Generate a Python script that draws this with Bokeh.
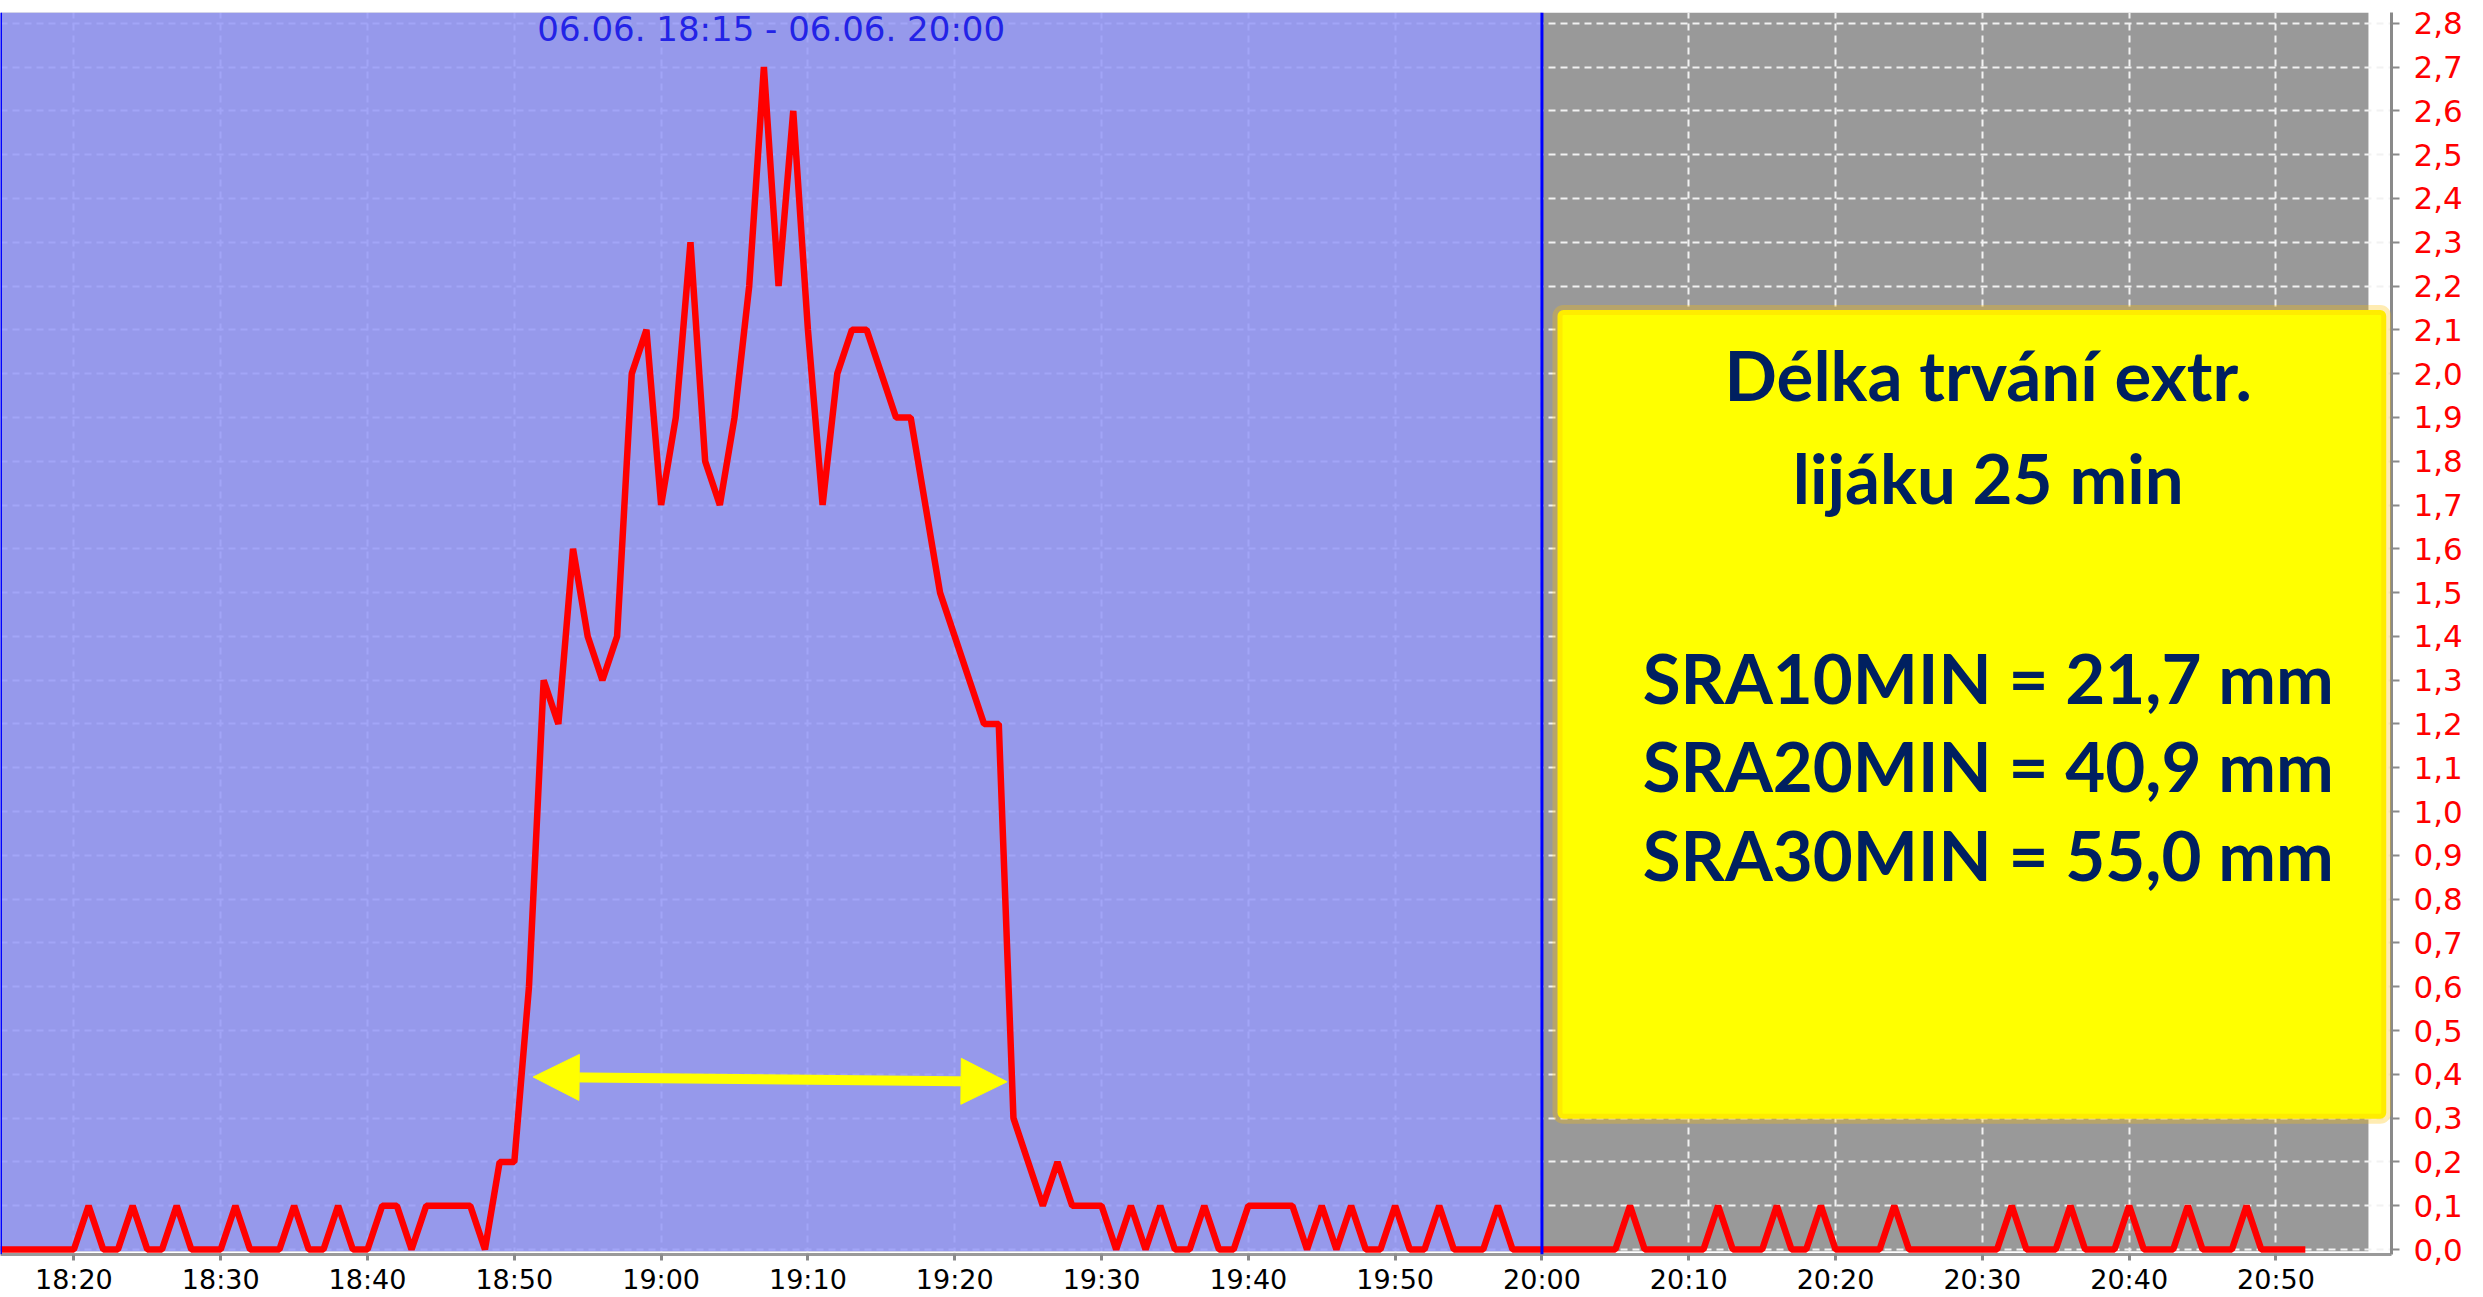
from bokeh.plotting import figure
from bokeh.models import (BoxAnnotation, Span, Label, Arrow, NormalHead,
                          FixedTicker, Range1d, CustomJSTickFormatter)
from bokeh.embed import file_html
from bokeh.resources import INLINE

# ---------------- data ----------------
start_time = "18:15"          # first sample, 1-minute sampling
values = [
    0, 0, 0, 0, 0,                                  # 18:15-18:19
    0, 0.1, 0, 0, 0.1, 0, 0, 0.1, 0, 0,             # 18:20-18:29
    0, 0.1, 0, 0, 0, 0.1, 0, 0, 0.1, 0,             # 18:30-18:39
    0, 0.1, 0.1, 0, 0.1, 0.1, 0.1, 0.1, 0, 0.2,     # 18:40-18:49
    0.2, 0.6, 1.3, 1.2, 1.6, 1.4, 1.3, 1.4, 2.0, 2.1,  # 18:50-18:59
    1.7, 1.9, 2.3, 1.8, 1.7, 1.9, 2.2, 2.7, 2.2, 2.6,  # 19:00-19:09
    2.1, 1.7, 2.0, 2.1, 2.1, 2.0, 1.9, 1.9, 1.7, 1.5,  # 19:10-19:19
    1.4, 1.3, 1.2, 1.2, 0.3, 0.2, 0.1, 0.2, 0.1, 0.1,  # 19:20-19:29
    0.1, 0, 0.1, 0, 0.1, 0, 0, 0.1, 0, 0,           # 19:30-19:39
    0.1, 0.1, 0.1, 0.1, 0, 0.1, 0, 0.1, 0, 0,       # 19:40-19:49
    0.1, 0, 0, 0.1, 0, 0, 0, 0.1, 0, 0,             # 19:50-19:59
    0, 0, 0, 0, 0, 0, 0.1, 0, 0, 0,                 # 20:00-20:09
    0, 0, 0.1, 0, 0, 0, 0.1, 0, 0, 0.1,             # 20:10-20:19
    0, 0, 0, 0, 0.1, 0, 0, 0, 0, 0,                 # 20:20-20:29
    0, 0, 0.1, 0, 0, 0, 0.1, 0, 0, 0,               # 20:30-20:39
    0.1, 0, 0, 0, 0.1, 0, 0, 0, 0.1, 0,             # 20:40-20:49
    0, 0, 0,                                        # 20:50-20:52
]
x_tick_labels = ["18:20", "18:30", "18:40", "18:50", "19:00", "19:10", "19:20",
                 "19:30", "19:40", "19:50", "20:00", "20:10", "20:20", "20:30",
                 "20:40", "20:50"]
y_tick_labels = ["0,0", "0,1", "0,2", "0,3", "0,4", "0,5", "0,6", "0,7", "0,8",
                 "0,9", "1,0", "1,1", "1,2", "1,3", "1,4", "1,5", "1,6", "1,7",
                 "1,8", "1,9", "2,0", "2,1", "2,2", "2,3", "2,4", "2,5", "2,6",
                 "2,7", "2,8"]
sel_start = "18:15"
sel_end = "20:00"
title_text = "06.06. 18:15 - 06.06. 20:00"
box_lines = ["Délka trvání extr.", "lijáku 25 min",
             "SRA10MIN = 21,7 mm", "SRA20MIN = 40,9 mm", "SRA30MIN = 55,0 mm"]
arrow_from = ("18:51:17", 0.394)
arrow_to = ("19:23:34", 0.383)


def to_min(s):
    parts = [int(t) for t in s.split(":")]
    m = parts[0] * 60 + parts[1]
    if len(parts) > 2:
        m += parts[2] / 60.0
    return m


t0 = to_min(start_time)
xs = [t0 + i for i in range(len(values))]
x_ticks = [to_min(s) for s in x_tick_labels]
y_ticks = [float(s.replace(",", ".")) for s in y_tick_labels]
s0, s1 = to_min(sel_start), to_min(sel_end)

x_lo, x_hi = s0, s0 + 162.87
gray_end = s0 + 161.3
y_lo, y_hi = -0.0114, 2.8246

p = figure(width=2483, height=1297, output_backend="svg", toolbar_location=None,
           x_range=Range1d(x_lo, x_hi), y_range=Range1d(y_lo, y_hi),
           y_axis_location="right", min_border_left=0, min_border_top=12,
           min_border_right=92, min_border_bottom=0,
           background_fill_color="white", border_fill_color="white",
           outline_line_color=None)

# gray chart background (below the grid)
p.add_layout(BoxAnnotation(left=x_lo, right=gray_end, bottom=-0.004, top=y_hi,
                           fill_color="#999999", fill_alpha=1.0,
                           line_color=None, level="image"))

# grid
p.xgrid.ticker = FixedTicker(ticks=x_ticks)
p.ygrid.ticker = FixedTicker(ticks=y_ticks)
for g in (p.xgrid, p.ygrid):
    g.grid_line_color = "#f2f2f2"
    g.grid_line_dash = "7 5"
    g.grid_line_width = 2

# selected interval (blue, semi-transparent over grid)
p.quad(left=[s0], right=[s1], bottom=[-0.004], top=[y_hi],
       fill_color=(149, 152, 248), fill_alpha=0.86, line_color=None)

# rain series
p.line(xs, values, line_color="#ff0000", line_width=6.5)

# selection borders
for loc in (s0, s1):
    p.add_layout(Span(location=loc, dimension="height", line_color="#0000ff",
                      line_width=3))

# axes
xa = p.xaxis[0]
xa.ticker = FixedTicker(ticks=x_ticks)
xa.major_label_overrides = {t: l for t, l in zip(x_ticks, x_tick_labels)}
xa.major_label_text_font = "DejaVu Sans"
xa.major_label_text_font_size = "27px"
xa.major_label_text_color = "black"
xa.major_label_standoff = 3
xa.axis_line_color = "#9a9a9a"
xa.axis_line_width = 3
xa.major_tick_line_color = "#8a8a8a"
xa.major_tick_line_width = 3
xa.major_tick_out = 6
xa.major_tick_in = 0
xa.minor_tick_line_color = None

ya = p.yaxis[0]
ya.ticker = FixedTicker(ticks=y_ticks)
ya.formatter = CustomJSTickFormatter(code="return tick.toFixed(1).replace('.', ',');")
ya.major_label_text_font = "DejaVu Sans"
ya.major_label_text_font_size = "31px"
ya.major_label_text_color = "#ff0000"
ya.major_label_standoff = 14
ya.axis_line_color = "#8a8a8a"
ya.axis_line_width = 3
ya.major_tick_line_color = "#8a8a8a"
ya.major_tick_line_width = 2
ya.major_tick_out = 8
ya.major_tick_in = 0
ya.minor_tick_line_color = None

# interval title
p.add_layout(Label(x=(s0 + s1) / 2, y=2.786, text=title_text,
                   text_color="#2323e6", text_font="DejaVu Sans",
                   text_font_size="34px", text_align="center",
                   text_baseline="middle"))

# duration arrow
p.add_layout(Arrow(x_start=to_min(arrow_from[0]), y_start=arrow_from[1],
                   x_end=to_min(arrow_to[0]), y_end=arrow_to[1],
                   line_color="#ffff00", line_width=10,
                   start=NormalHead(size=46, fill_color="#ffff00",
                                    line_color="#ffff00", line_width=1),
                   end=NormalHead(size=46, fill_color="#ffff00",
                                  line_color="#ffff00", line_width=1)))

# info box
box_left, box_right = 1201.06, x_hi - 0.36
box_top, box_bottom = 2.1455, 0.2987
p.add_layout(BoxAnnotation(left=box_left, right=box_right, top=box_top,
                           bottom=box_bottom, fill_color="#ffff00",
                           fill_alpha=1.0, line_color="#ffc000", line_width=10,
                           border_radius=6))
box_cx = 1230.4
for txt, yy in zip(box_lines, [1.9973, 1.7625, 1.3064, 1.1058, 0.9029]):
    p.add_layout(Label(x=box_cx, y=yy, text=txt, text_color="#002060",
                       text_font="Lato", text_font_style="bold",
                       text_font_size="69px", text_align="center",
                       text_baseline="middle"))

open("out.html", "w").write(file_html(p, INLINE))
